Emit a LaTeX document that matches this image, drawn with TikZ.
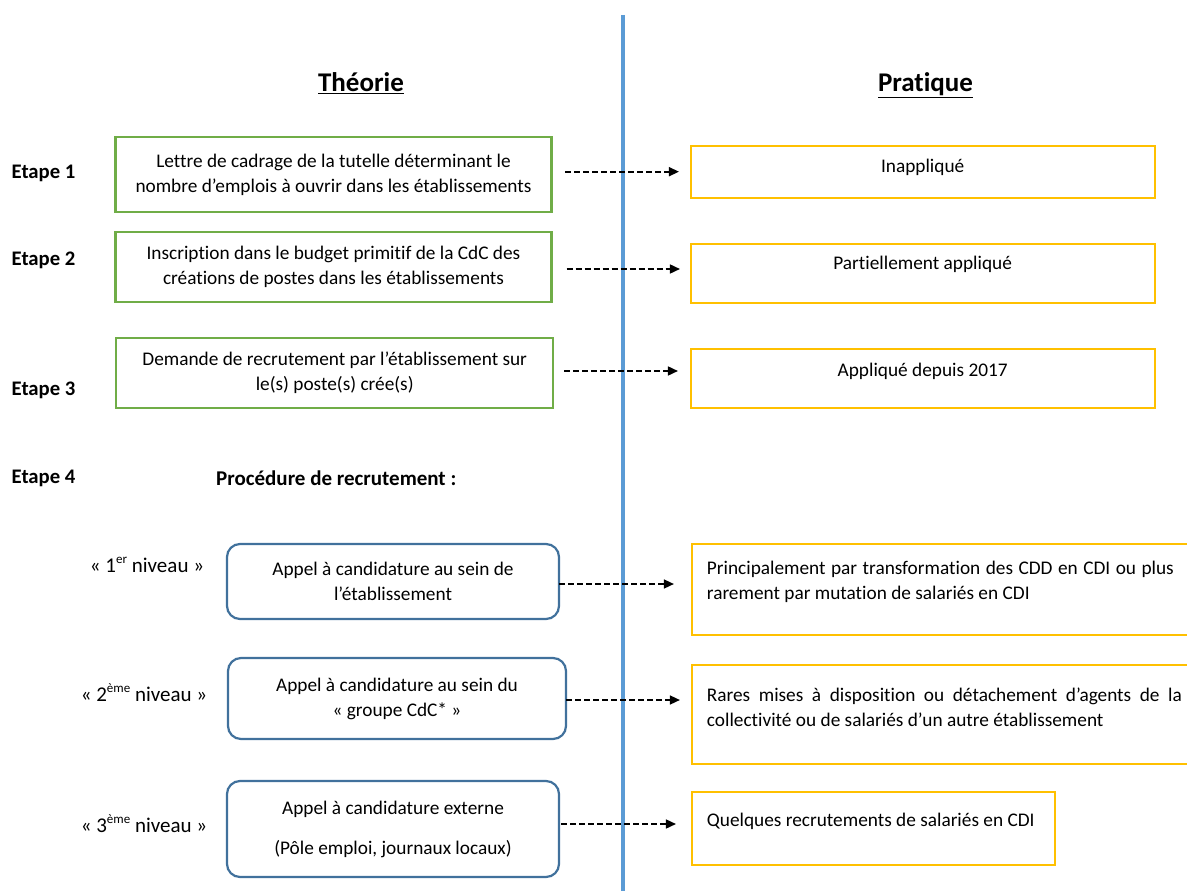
\documentclass[tikz,border=0pt]{standalone}
\usepackage{fontspec}
\setmainfont{Carlito}[Ligatures=NoCommon]
\usetikzlibrary{arrows.meta}
\definecolor{vgreen}{HTML}{70AD47}
\definecolor{vyellow}{HTML}{FFC000}
\definecolor{vblue}{HTML}{41719C}
\definecolor{vline}{HTML}{5B9BD5}
\newcommand\mysup[1]{\raisebox{0.42em}{\fontsize{13}{13}\selectfont #1}}
\begin{document}
\begin{tikzpicture}[x=1pt,y=-1pt,
  body/.style={font=\fontsize{19.3}{25}\selectfont},
  theo/.style={draw=vgreen, line width=2.2pt, inner sep=0pt, align=center, body},
  prat/.style={draw=vyellow, line width=2.2pt, inner sep=0pt},
  proc/.style={draw=vblue, line width=2.2pt, rounded corners=13pt, inner sep=0pt, align=center, body},
  steplabel/.style={anchor=west, inner sep=0pt, font=\fontsize{20.7}{24}\selectfont\bfseries},
  lvl/.style={inner sep=0pt, font=\fontsize{21}{25}\selectfont},
  head/.style={anchor=base, font=\fontsize{27}{30}\selectfont\bfseries},
  arr/.style={line width=1.6pt, dash pattern=on 6pt off 3pt, -{Triangle[length=10pt,width=9pt]}},
  sep/.style={draw=vline, line width=4pt}
]
\path[use as bounding box, clip] (0,0) rectangle (1187,891);

% separator
\coordinate (st) at (623,15);
\coordinate (sb) at (623,895);
\draw[sep] (st) -- (sb);

% headings
\node[head] (hth) at (361,92) {\underline{Théorie}};
\node[head] (hpr) at (925.5,92) {\underline{Pratique}};

% step labels
\node[steplabel] (e1) at (11.5,173.3) {Etape 1};
\node[steplabel] (e2) at (11.5,260.7) {Etape 2};
\node[steplabel] (e3) at (11.5,390.7) {Etape 3};
\node[steplabel] (e4) at (11.5,478) {Etape 4};
\node[steplabel, font=\fontsize{21}{25}\selectfont\bfseries] (pr) at (216,478) {Procédure de recrutement :};

% theory boxes
\node[theo, minimum width=436pt, minimum height=74.4pt] (g1) at (333.5,174.5)
  {Lettre de cadrage de la tutelle déterminant le\\nombre d’emplois à ouvrir dans les établissements};
\node[theo, minimum width=436pt, minimum height=70.6pt] (g2) at (333.5,267)
  {Inscription dans le budget primitif de la CdC des\\créations de postes dans les établissements};
\node[theo, minimum width=436.7pt, minimum height=70.3pt] (g3) at (334.7,373.2)
  {Demande de recrutement par l’établissement sur\\le(s) poste(s) crée(s)};

% practice boxes (top)
\node[prat, minimum width=463.7pt, minimum height=52pt] (p1) at (923.2,172) {};
\node[prat, minimum width=463.7pt, minimum height=59pt] (p2) at (923.2,273.5) {};
\node[prat, minimum width=463.7pt, minimum height=59pt] (p3) at (923.2,378.5) {};
\node[body] (t1) at (922.7,167) {Inappliqué};
\node[body] (t2) at (922.7,264) {Partiellement appliqué};
\node[body] (t3) at (922.7,371) {Appliqué depuis 2017};

% level labels
\node[lvl] (l1) at (147,565) {«~1\mysup{er} niveau~»};
\node[lvl] (l2) at (144,693) {«~2\mysup{ème} niveau~»};
\node[lvl] (l3) at (144,824) {«~3\mysup{ème} niveau~»};

% procedure boxes
\node[proc, minimum width=332pt, minimum height=75pt] (b1) at (393,581.5)
  {Appel à candidature au sein de\\l’établissement};
\node[proc, minimum width=338pt, minimum height=81pt] (b2) at (397,698.5)
  {Appel à candidature au sein du\\«~groupe CdC*~»};
\node[proc, minimum width=332pt, minimum height=96pt] (b3) at (393,829)
  {Appel à candidature externe\\[15pt](Pôle emploi, journaux locaux)};

% practice boxes (bottom)
\node[prat, minimum width=510pt, minimum height=91pt] (p4) at (946.7,589.5) {};
\node[prat, minimum width=510pt, minimum height=99pt] (p5) at (946.7,714.5) {};
\node[prat, minimum width=363.3pt, minimum height=73pt] (p6) at (873.4,828.5) {};
\node[body, anchor=west, align=left, inner sep=0pt] (t4) at (706.7,581.5)
  {\makebox[467pt][s]{Principalement par transformation des CDD en CDI ou plus}\\rarement par mutation de salariés en CDI};
\node[body, anchor=west, align=left, inner sep=0pt] (t5) at (706.7,707)
  {\makebox[475pt][s]{Rares mises à disposition ou détachement d’agents de la}\\collectivité ou de salariés d’un autre établissement};
\node[body, anchor=west, inner sep=0pt] (t6) at (706.7,821) {Quelques recrutements de salariés en CDI};

% arrows
\draw[arr] ([shift={(12.5,-2.8)}]g1.east) coordinate (a1) -- ([xshift=-11.3pt]a1 -| p1.west);
\draw[arr] ([shift={(14,2)}]g2.east) coordinate (a2) -- ([xshift=-10.3pt]a2 -| p2.west);
\draw[arr] ([shift={(10,-2.2)}]g3.east) coordinate (a3) -- ([xshift=-12.3pt]a3 -| p3.west);
\draw[arr] ([shift={(-1,2.5)}]b1.east) coordinate (a4) -- ([xshift=-16.7pt]a4 -| p4.west);
\draw[arr] ([shift={(-1,1.5)}]b2.east) coordinate (a5) -- ([xshift=-10.7pt]a5 -| p5.west);
\draw[arr] ([shift={(1,-5)}]b3.east) coordinate (a6) -- ([xshift=-14.7pt]a6 -| p6.west);
\end{tikzpicture}
\end{document}
